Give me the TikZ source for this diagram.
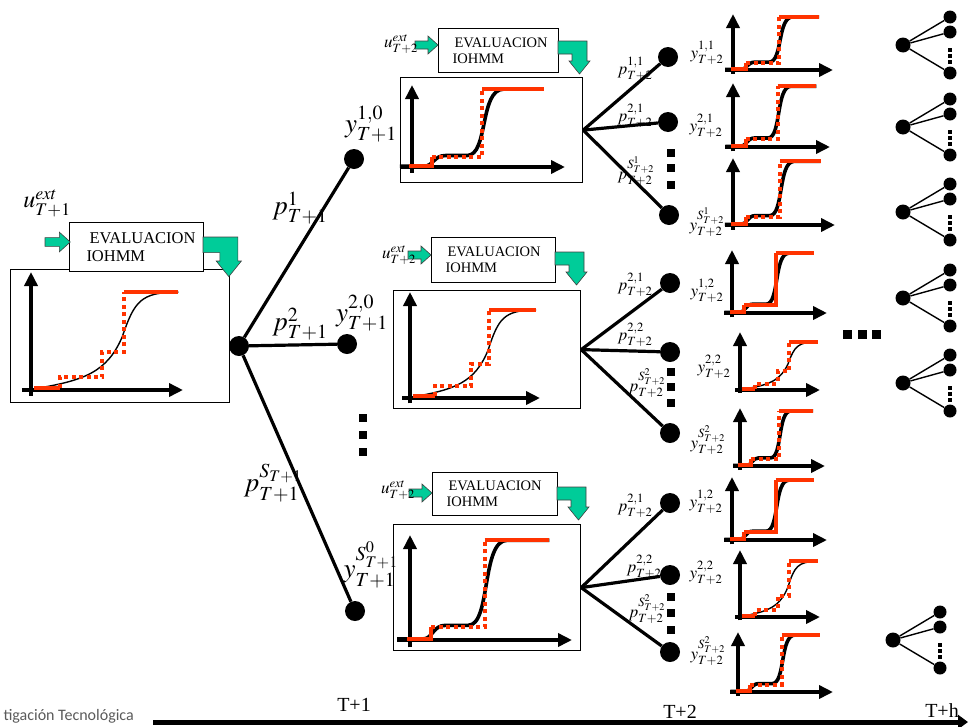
\documentclass[tikz,border=0pt]{standalone}
\usepackage{mathptmx}
\usepackage{fontspec}
\setmainfont{Liberation Serif}
\newfontfamily\footerfont{Carlito}
\usetikzlibrary{arrows.meta,positioning}

\definecolor{stepred}{RGB}{255,51,0}
\definecolor{evalgreen}{RGB}{0,204,153}
\definecolor{footergray}{RGB}{90,90,90}

\tikzset{
  axisline/.style={line width=4pt, -{Triangle[length=14pt,width=13pt]}},
  thincurve/.style={line width=1.4pt},
  thickcurve/.style={line width=3.6pt},
  redsolid/.style={draw=stepred, line width=4pt},
  reddots/.style={draw=stepred, line width=4pt, dash pattern=on 4pt off 3.5pt},
  allsolid/.style={reddots/.style={draw=stepred, line width=4pt}},
  greenarrow/.style={fill=evalgreen, draw=black!75, line width=0.6pt},
  gentle/.pic={
    \draw[axisline] (0,0.05) -- (0,-1);
    \draw[axisline] (-0.06,0) -- (1,0);
    \draw[thincurve] (0.02,-0.01) .. controls (0.35,-0.08) and (0.5,-0.15) .. (0.6,-0.45)
      .. controls (0.68,-0.75) and (0.72,-0.83) .. (0.97,-0.83);
    \draw[redsolid] (0.02,-0.02) -- (0.19,-0.02);
    \draw[reddots] (0.19,-0.02) -- (0.19,-0.11) -- (0.47,-0.11) -- (0.47,-0.32)
      -- (0.61,-0.32) -- (0.61,-0.83);
    \draw[redsolid] (0.61,-0.83) -- (0.97,-0.83);
  },
  plateau/.pic={
    \draw[axisline] (0,0.07) -- (0,-1);
    \draw[axisline] (-0.08,0) -- (1,0);
    \draw[thickcurve] (-0.08,-0.01) -- (0.08,-0.01) .. controls (0.14,-0.01) and (0.14,-0.14) .. (0.22,-0.14)
      -- (0.36,-0.14) .. controls (0.5,-0.14) and (0.44,-0.95) .. (0.6,-0.95) -- (0.86,-0.95);
    \draw[redsolid] (-0.02,-0.01) -- (0.13,-0.01) -- (0.13,-0.12);
    \draw[reddots] (0.13,-0.12) -- (0.46,-0.12) -- (0.46,-0.95);
    \draw[redsolid] (0.46,-0.95) -- (0.86,-0.95);
  },
  feedarrow/.pic={
    \draw[greenarrow] (0,-4) -- (13,-4) -- (13,-9) -- (23,0) -- (13,9) -- (13,4) -- (0,4) -- cycle;
  },
  bentarrow/.pic={
    \draw[greenarrow] (0,0) -- (29,0) -- (29,20) -- (32,20) -- (21.5,33) -- (11,20)
      -- (14,20) -- (14,13) -- (0,13) -- cycle;
  },
  plotframe/.style={draw, line width=1.2pt, anchor=north west, inner sep=0pt},
  evalbox/.style={draw, fill=white, line width=1pt, anchor=north west, align=left, inner xsep=6pt, inner ysep=0pt},
  bigdot/.style={circle, fill, inner sep=0pt, minimum size=20pt},
  leafdot/.style={circle, fill, inner sep=0pt, minimum size=15pt},
  tinydot/.style={circle, fill, inner sep=0pt, minimum size=13pt},
  sqdot/.style={rectangle, fill, inner sep=0pt, minimum size=8pt},
  minisq/.style={rectangle, fill, inner sep=0pt, minimum size=4.5pt},
  branch/.style={line width=3.2pt},
  twig/.style={line width=1.4pt},
  biglab/.style={inner sep=0pt, font=\fontsize{27}{27}\selectfont},
  midlab/.style={inner sep=0pt, font=\fontsize{17}{17}\selectfont},
  timelab/.style={inner sep=0pt, font=\fontsize{20}{20}\selectfont}
}

\begin{document}
\begin{tikzpicture}[x=1pt,y=-1pt]
\useasboundingbox (0,0) rectangle (968,726);

% plot frames
\node[plotframe, minimum width=219pt, minimum height=133pt] (frame0) at (10,269) {};
\node[plotframe, minimum width=182pt, minimum height=105pt] (frameA) at (400,77) {};
\node[plotframe, minimum width=187pt, minimum height=118pt] (frameB) at (393,290) {};
\node[plotframe, minimum width=187pt, minimum height=126pt] (frameC) at (393,524) {};

\pic[xscale=152,yscale=118] at (31,390) {gentle};
\pic[xscale=153,yscale=82] at (412,167) {plateau};
\pic[xscale=130,yscale=106] at (410,398) {gentle};
\pic[xscale=162,yscale=105] at (410,640) {plateau};

% evaluation boxes
\node[evalbox, text width=122pt, minimum height=49pt, font=\fontsize{16.5}{18}\selectfont] (eval0) at (69,222) {\hspace*{14pt}EVALUACION\\\hspace*{11pt}IOHMM};
\node[evalbox, text width=108pt, minimum height=44pt, font=\fontsize{14.5}{16}\selectfont] (evalA) at (438,28) {\hspace*{10pt}EVALUACION\\\hspace*{8pt}IOHMM};
\node[evalbox, text width=112pt, minimum height=45pt, font=\fontsize{14.5}{16}\selectfont] (evalB) at (431,237) {\hspace*{10pt}EVALUACION\\\hspace*{8pt}IOHMM};
\node[evalbox, text width=113pt, minimum height=43pt, font=\fontsize{14.5}{16}\selectfont] (evalC) at (432,472) {\hspace*{10pt}EVALUACION\\\hspace*{8pt}IOHMM};

\pic[scale=1.1] at (45,242) {feedarrow};
\pic[scale=1.2] at (203,237) {bentarrow};
\pic at (415,45) {feedarrow};
\pic at (558,41) {bentarrow};
\pic at (408,255) {feedarrow};
\pic at (555,252) {bentarrow};
\pic at (409,493) {feedarrow};
\pic at (557,487) {bentarrow};

\node[inner sep=0pt, font=\fontsize{24}{24}\selectfont] (u0) at (47,203) {$u^{ext}_{T+1}$};
\node[midlab] (uA) at (401,44) {$u^{ext}_{T+2}$};
\node[midlab] (uB) at (399,255) {$u^{ext}_{T+2}$};
\node[midlab] (uC) at (398,490) {$u^{ext}_{T+2}$};

% first level
\node[bigdot] (root) at (239,346) {};
\node[bigdot] (n1) at (354,159) {};
\node[bigdot] (n2) at (347,344) {};
\node[bigdot] (n3) at (355,611) {};
\foreach \n in {n1,n2,n3}{\draw[branch] (root) -- (\n);}
\foreach \yy [count=\j] in {418,435,452}{\node[sqdot] (vd\j) at (363,\yy) {};}

\node[biglab] (p1) at (300,208) {$p^{1}_{T+1}$};
\node[biglab] (p2) at (300,324) {$p^{2}_{T+1}$};
\node[biglab] (p3) at (273,483) {$p^{S_{T+1}}_{T+1}$};
\node[biglab] (y1) at (371,124) {$y^{1,0}_{T+1}$};
\node[biglab] (y2) at (362,313) {$y^{2,0}_{T+1}$};
\node[biglab] (y3) at (371,565) {$y^{S^{0}_{T+1}}_{T+1}$};

% second level
\node[bigdot] (mA1) at (668,57) {};
\node[bigdot] (mA2) at (668,122) {};
\node[bigdot] (mA3) at (669,215) {};
\node[bigdot] (mB1) at (670,283) {};
\node[bigdot] (mB2) at (670,352) {};
\node[bigdot] (mB3) at (670,433) {};
\node[bigdot] (mC1) at (670,503) {};
\node[bigdot] (mC2) at (670,575) {};
\node[bigdot] (mC3) at (670,652) {};
\foreach \b in {A,B,C}{
  \foreach \i in {1,2,3}{\draw[branch] (frame\b.east) -- (m\b\i);}
}
\foreach \yy [count=\j] in {153,168,185}{\node[sqdot] (dA\j) at (671,\yy) {};}
\foreach \yy [count=\j] in {372,387,403}{\node[sqdot] (dB\j) at (671,\yy) {};}
\foreach \yy [count=\j] in {597,613,630}{\node[sqdot] (dC\j) at (671,\yy) {};}

\node[midlab] (pA1) at (635,69) {$p^{1,1}_{T+2}$};
\node[midlab] (pA2) at (635,116) {$p^{2,1}_{T+2}$};
\node[midlab] (pA3) at (636,171) {$p^{S^{1}_{T+2}}_{T+2}$};
\node[midlab] (pB1) at (635,285) {$p^{2,1}_{T+2}$};
\node[midlab] (pB2) at (635,335) {$p^{2,2}_{T+2}$};
\node[midlab] (pB3) at (647,383) {$p^{S^{2}_{T+2}}_{T+2}$};
\node[midlab] (pC1) at (635,506) {$p^{2,1}_{T+2}$};
\node[midlab] (pC2) at (644,567) {$p^{2,2}_{T+2}$};
\node[midlab] (pC3) at (647,609) {$p^{S^{2}_{T+2}}_{T+2}$};

% third level plots
\pic[xscale=100,yscale=56] at (733,70) {plateau};
\pic[xscale=97,yscale=64] at (733,147) {plateau};
\pic[xscale=102,yscale=67] at (733,225) {plateau};
\pic[xscale=95,yscale=63,allsolid] at (732,313) {plateau};
\pic[xscale=80,yscale=58] at (740,390) {gentle};
\pic[xscale=85,yscale=58] at (740,466) {plateau};
\pic[xscale=95,yscale=63,allsolid] at (732,540) {plateau};
\pic[xscale=80,yscale=67] at (740,617) {gentle};
\pic[xscale=95,yscale=60] at (738,692) {plateau};

\node[midlab] (yA1) at (707,53) {$y^{1,1}_{T+2}$};
\node[midlab] (yA2) at (706,126) {$y^{2,1}_{T+2}$};
\node[midlab] (yA3) at (707,222) {$y^{S^{1}_{T+2}}_{T+2}$};
\node[midlab] (yB1) at (707,291) {$y^{1,2}_{T+2}$};
\node[midlab] (yB2) at (714,367) {$y^{2,2}_{T+2}$};
\node[midlab] (yB3) at (708,440) {$y^{S^{2}_{T+2}}_{T+2}$};
\node[midlab] (yC1) at (706,502) {$y^{1,2}_{T+2}$};
\node[midlab] (yC2) at (706,573) {$y^{2,2}_{T+2}$};
\node[midlab] (yC3) at (708,651) {$y^{S^{2}_{T+2}}_{T+2}$};

% last level
\foreach \xx/\yy [count=\k] in {903/45,903/127,903/212,903/298,903/383,893/640}{
  \node[leafdot] (h\k) at (\xx,\yy) {};
  \node[tinydot] (h\k-a) at (\xx+47,\yy-28) {};
  \node[tinydot] (h\k-b) at (\xx+47,\yy-13) {};
  \node[tinydot] (h\k-c) at (\xx+47,\yy+28) {};
  \foreach \c in {a,b,c}{\draw[twig] (h\k) -- (h\k-\c);}
  \foreach \d [count=\j] in {5,11,17}{\node[minisq] (h\k-d\j) at (\xx+47,\yy+\d) {};}
}
\foreach \xx [count=\j] in {847,862,876}{\node[rectangle, fill, inner sep=0pt, minimum size=9pt] (hd\j) at (\xx,334) {};}

% time axis
\coordinate (tstart) at (153,722);
\coordinate (tend) at (968,722);
\draw[line width=5pt, -{Triangle[length=10pt,width=14pt]}] (tstart) -- (tend);
\node[timelab] (t1) at (354,705) {T+1};
\node[timelab] (t2) at (680,712) {T+2};
\node[timelab] (th) at (942,711) {T+h};
\node[anchor=base east, inner sep=0pt, text=footergray, font=\footerfont\fontsize{16}{16}\selectfont] (footer) at (134,720) {tigación Tecnológica};
\end{tikzpicture}
\end{document}
